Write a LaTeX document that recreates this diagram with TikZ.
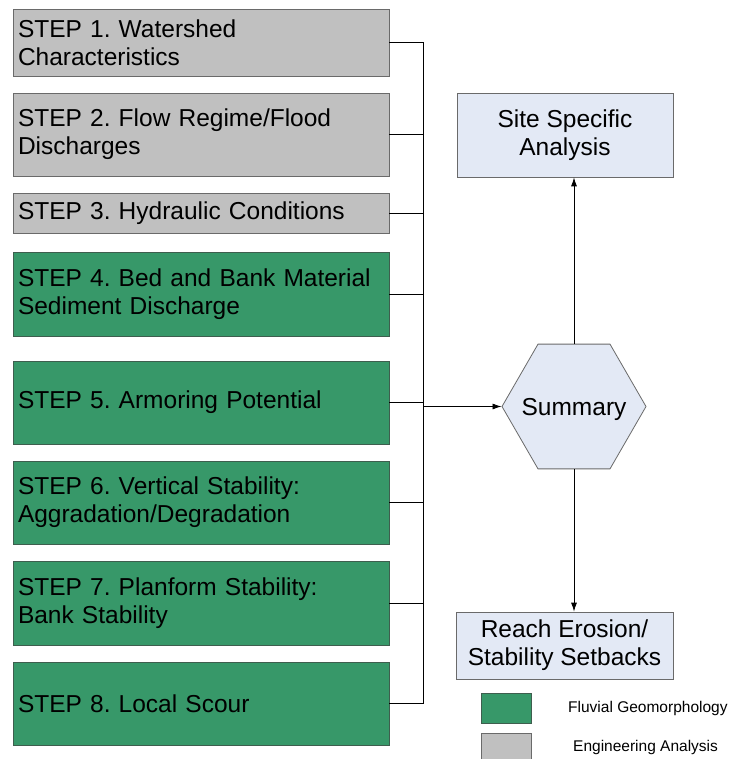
\documentclass[tikz,border=0pt]{standalone}
\usepackage{fontspec}
\setmainfont{Liberation Sans}
\usetikzlibrary{shapes.geometric,arrows.meta}
\definecolor{gfill}{HTML}{C0C0C0}
\definecolor{grfill}{HTML}{379869}
\definecolor{bfill}{HTML}{E3E9F5}
\definecolor{bord}{HTML}{6A6A6A}
\definecolor{gbord}{HTML}{3E5E4E}
\frenchspacing
\begin{document}
\begin{tikzpicture}[x=1pt,y=-1pt,
  stepbox/.style={rectangle, line width=0.8pt, minimum width=376pt, inner xsep=5pt, inner ysep=0pt,
    text width=366pt, align=left, font=\fontsize{24.5}{28}\selectfont},
  graystep/.style={stepbox, draw=bord, fill=gfill},
  greenstep/.style={stepbox, draw=gbord, fill=grfill},
  bluebox/.style={rectangle, draw=bord, line width=0.8pt, fill=bfill, inner sep=0pt, align=center,
    font=\fontsize{24.5}{28}\selectfont},
  hexa/.style={regular polygon, regular polygon sides=6, minimum size=144pt, inner sep=0pt,
    draw=bord, line width=0.8pt, fill=bfill, font=\fontsize{24.5}{28}\selectfont},
  conn/.style={line width=0.8pt, black},
  arr/.style={conn, -{Latex[length=9pt,width=6pt]}},
  legbox/.style={rectangle, line width=0.8pt, minimum width=50pt, minimum height=30pt, inner sep=0pt},
  legtext/.style={anchor=west, inner sep=0pt, font=\fontsize{15.5}{18}\selectfont}
]
\useasboundingbox (0,0) rectangle (740,759);
\fill[white] (0,0) rectangle (740,759);
\clip (0,0) rectangle (740,759);

\node[graystep, minimum height=67pt] (s1) at (201,42.5) {STEP 1. Watershed\\Characteristics};
\node[graystep, minimum height=83pt] (s2) at (201,134.5) {STEP 2. Flow Regime/Flood\\Discharges};
\node[graystep, minimum height=40pt] (s3) at (201,213) {STEP 3. Hydraulic Conditions};
\node[greenstep, minimum height=84pt] (s4) at (201,294) {STEP 4. Bed and Bank Material\\Sediment Discharge};
\node[greenstep, minimum height=83pt] (s5) at (201,402.5) {STEP 5. Armoring Potential};
\node[greenstep, minimum height=83pt] (s6) at (201,502.5) {STEP 6. Vertical Stability:\\Aggradation/Degradation};
\node[greenstep, minimum height=84pt] (s7) at (201,603) {STEP 7. Planform Stability:\\Bank Stability};
\node[greenstep, minimum height=83pt] (s8) at (201,703.5) {STEP 8. Local Scour};

\node[bluebox, minimum width=216pt, minimum height=84pt] (site) at (565,135) {Site Specific\\Analysis};
\node[hexa] (sum) at (574,406.5) {\makebox[0pt]{\raisebox{0pt}[0pt][0pt]{\raisebox{-0.35em}{Summary}}}};
\node[bluebox, minimum width=217pt, minimum height=67pt] (reach) at (564.5,645.5) {Reach Erosion/\\Stability Setbacks};

\coordinate (bt) at (423,42.5);
\coordinate (bb) at (423,703.5);
\draw[conn] (s1.east) -- (bt) -- (bb) -- (s8.east);
\foreach \n in {s2,s3,s4,s5,s6,s7} \draw[conn] (\n.east) -- (\n.east -| bt);
\draw[arr] (sum.west -| bt) -- (sum.west);
\draw[arr] (sum.north) -- (sum.north |- site.south);
\draw[arr] (sum.south) -- (sum.south |- reach.north);

\node[legbox, draw=gbord, fill=grfill] (lg1) at (506,708) {};
\node[legtext] (lt1) at (568,708) {Fluvial Geomorphology};
\node[legbox, draw=bord, fill=gfill] (lg2) at (506,748) {};
\node[legtext] (lt2) at (573,747) {Engineering Analysis};
\end{tikzpicture}
\end{document}
